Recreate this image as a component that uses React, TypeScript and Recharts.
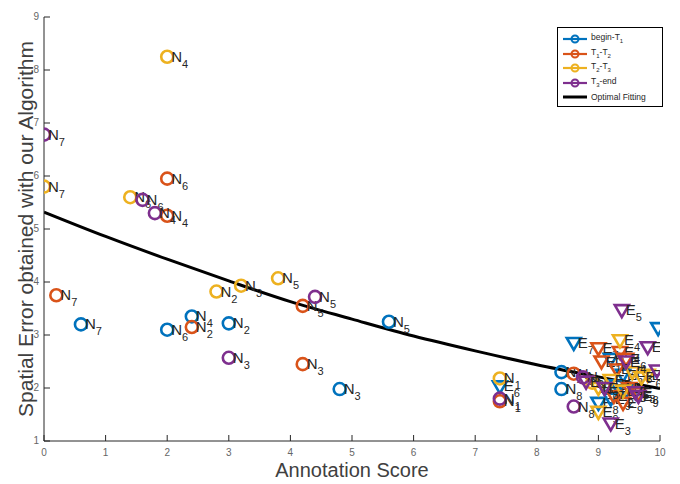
import React from 'react';
import { ComposedChart, Scatter, Line, XAxis, YAxis } from 'recharts';

const xTicks = [0, 1, 2, 3, 4, 5, 6, 7, 8, 9, 10];
const yTicks = [1, 2, 3, 4, 5, 6, 7, 8, 9];

// [label, x, y]  N = circle, E = down triangle
const beginT1: [string, number, number][] = [
  ['N7', 0.6, 3.2], ['N6', 2.0, 3.1], ['N4', 2.4, 3.35], ['N2', 3.0, 3.22], ['N3', 4.8, 1.98],
  ['N5', 5.6, 3.25], ['N1', 8.4, 2.3], ['N8', 8.4, 1.98],
  ['E6', 7.4, 2.03], ['E7', 8.6, 2.85], ['E4', 9.97, 3.13], ['E1', 9.2, 2.55], ['E8', 9.0, 1.72],
  ['E2', 9.4, 2.25], ['E3', 9.45, 1.95], ['E5', 9.3, 2.05], ['E9', 9.2, 1.8],
];
const t1T2: [string, number, number][] = [
  ['N7', 0.2, 3.75], ['N6', 2.0, 5.95], ['N4', 2.0, 5.25], ['N2', 2.4, 3.15], ['N5', 4.2, 3.55],
  ['N3', 4.2, 2.45], ['N1', 7.4, 1.75], ['N8', 8.6, 2.27],
  ['E7', 9.0, 2.75], ['E1', 9.05, 2.5], ['E4', 9.35, 2.68], ['E6', 9.45, 2.55], ['E3', 9.3, 2.35],
  ['E5', 9.5, 2.0], ['E2', 9.25, 1.85], ['E9', 9.4, 1.72], ['E8', 9.65, 1.9],
];
const t2T3: [string, number, number][] = [
  ['N7', 0.0, 5.8], ['N6', 1.4, 5.6], ['N4', 2.0, 8.25], ['N2', 2.8, 3.82], ['N3', 3.2, 3.93],
  ['N5', 3.8, 4.07], ['N1', 7.4, 2.18], ['N8', 8.9, 2.1],
  ['E4', 9.35, 2.9], ['E5', 9.8, 2.25], ['E1', 9.2, 2.15], ['E8', 9.0, 2.0], ['E9', 9.0, 1.55],
  ['E3', 9.55, 2.3], ['E6', 9.7, 2.2], ['E2', 9.4, 1.95],
];
const t3End: [string, number, number][] = [
  ['N7', 0.0, 6.78], ['N6', 1.6, 5.55], ['N4', 1.8, 5.3], ['N3', 3.0, 2.57], ['N5', 4.4, 3.72],
  ['N1', 7.4, 1.8], ['N8', 8.6, 1.65], ['N2', 8.75, 2.2],
  ['E5', 9.38, 3.47], ['E6', 9.8, 2.77], ['E2', 9.95, 2.33], ['E3', 9.2, 1.33], ['E1', 8.8, 2.12],
  ['E8', 9.6, 1.92], ['E4', 9.45, 2.5], ['E7', 9.1, 2.0], ['E9', 9.65, 1.85],
];

const fitX = [0, 1, 2, 3, 4, 5, 6, 7, 8, 9, 10];
const fitY = [5.32, 4.86, 4.43, 4.02, 3.63, 3.3, 2.98, 2.7, 2.44, 2.21, 1.99];

const seriesNames = ['begin-T1', 'T1-T2', 'T2-T3', 'T3-end'];
const colors = ['#0072BD', '#D95319', '#EDB120', '#7E2F8E'];

const toPts = (arr: [string, number, number][]) => arr.map(([l, x, y]) => ({ l, x, y }));
const fitData = fitX.map((x, i) => ({ x, y: fitY[i] }));

const FONT = '"Liberation Sans", Arial, sans-serif';

const makeShape = (color: string) => (props: any) => {
  const { cx, cy, payload } = props;
  const lab: string = payload.l;
  const letter = lab[0];
  const sub = lab.slice(1);
  const marker = letter === 'N'
    ? <circle cx={cx} cy={cy} r={6} fill="none" stroke={color} strokeWidth={2.6} />
    : <polygon points={`${cx - 7},${cy - 5} ${cx + 7},${cy - 5} ${cx},${cy + 7}`} fill="none" stroke={color} strokeWidth={2.6} strokeLinejoin="miter" />;
  return (
    <g>
      {marker}
      <text x={cx + 4} y={cy + 5} fontFamily={FONT} fontSize={15} fill="#262626">
        {letter}
        <tspan fontSize={11} dy={6}>{sub}</tspan>
      </text>
    </g>
  );
};

const XTick = (props: any) => {
  const { x, y, payload } = props;
  return (
    <g>
      <line x1={x} y1={y} x2={x} y2={y - 6} stroke="#262626" strokeWidth={1} />
      <text x={x} y={y + 15} textAnchor="middle" fontFamily={FONT} fontSize={10} fill="#666">{payload.value}</text>
    </g>
  );
};
const YTick = (props: any) => {
  const { x, y, payload } = props;
  return (
    <g>
      <line x1={x} y1={y} x2={x + 6} y2={y} stroke="#262626" strokeWidth={1} />
      <text x={x - 5} y={y + 3} textAnchor="end" fontFamily={FONT} fontSize={10} fill="#666">{payload.value}</text>
    </g>
  );
};
const XTopTick = (props: any) => {
  const { x, y } = props;
  return <line x1={x} y1={y} x2={x} y2={y + 6} stroke="#262626" strokeWidth={1} />;
};
const YRightTick = (props: any) => {
  const { x, y } = props;
  return <line x1={x} y1={y} x2={x - 6} y2={y} stroke="#262626" strokeWidth={1} />;
};

const LegendBox = () => {
  const sub = (t: string) => <sub style={{ fontSize: 6 }}>{t}</sub>;
  const items = [
    { c: colors[0], node: <>begin-T{sub('1')}</> },
    { c: colors[1], node: <>T{sub('1')}-T{sub('2')}</> },
    { c: colors[2], node: <>T{sub('2')}-T{sub('3')}</> },
    { c: colors[3], node: <>T{sub('3')}-end</> },
  ];
  return (
    <div style={{ position: 'absolute', left: 557, top: 27, width: 106, height: 80, border: '1px solid #000', background: '#fff', fontFamily: FONT, fontSize: 8.5, color: '#262626', boxSizing: 'border-box', padding: '4px 0 0 4px' }}>
      {items.map((it, i) => (
        <div key={i} style={{ display: 'flex', alignItems: 'center', height: 14.5 }}>
          <svg width={26} height={10} style={{ marginRight: 3 }}>
            <line x1={1} y1={5} x2={25} y2={5} stroke={it.c} strokeWidth={2.2} />
            <circle cx={13} cy={5} r={3.5} fill="none" stroke={it.c} strokeWidth={2} />
          </svg>
          <span style={{ lineHeight: '10px' }}>{it.node}</span>
        </div>
      ))}
      <div style={{ display: 'flex', alignItems: 'center', height: 14.5 }}>
        <svg width={26} height={10} style={{ marginRight: 3 }}>
          <line x1={1} y1={5} x2={25} y2={5} stroke="#000" strokeWidth={3} />
        </svg>
        <span>Optimal Fitting</span>
      </div>
    </div>
  );
};

export default function App() {
  const all = [beginT1, t1T2, t2T3, t3End];
  return (
    <div style={{ position: 'absolute', left: 0, top: 0, width: 680, height: 484, background: '#fff' }}>
      <ComposedChart width={680} height={484} margin={{ top: 17, right: 20, bottom: 0, left: 14 }}>
        <XAxis xAxisId="b" type="number" dataKey="x" domain={[0, 10]} ticks={xTicks} allowDataOverflow
          tick={<XTick />} tickLine={false} tickSize={0} tickMargin={0} height={43}
          axisLine={{ stroke: '#262626' }}
          label={{ value: 'Annotation Score', position: 'insideBottom', offset: 7, style: { fontFamily: FONT, fontSize: 20, fill: '#404040' } }} />
        <XAxis xAxisId="t" orientation="top" type="number" dataKey="x" domain={[0, 10]} ticks={xTicks}
          tick={<XTopTick />} tickLine={false} tickSize={0} tickMargin={0} height={0} axisLine={{ stroke: '#262626' }} />
        <YAxis yAxisId="l" type="number" dataKey="y" domain={[1, 9]} ticks={yTicks} allowDataOverflow
          tick={<YTick />} tickLine={false} tickSize={0} tickMargin={0} width={30}
          axisLine={{ stroke: '#262626' }}
          label={{ value: 'Spatial Error obtained with our Algorithm', angle: -90, position: 'insideLeft', offset: 12, style: { textAnchor: 'middle', fontFamily: FONT, fontSize: 21, fill: '#404040' } }} />
        <YAxis yAxisId="r" orientation="right" type="number" dataKey="y" domain={[1, 9]} ticks={yTicks}
          tick={<YRightTick />} tickLine={false} tickSize={0} tickMargin={0} width={0} axisLine={{ stroke: '#262626' }} />
        {all.map((s, i) => (
          <Scatter key={i} name={seriesNames[i]} data={toPts(s)} xAxisId="b" yAxisId="l"
            fill={colors[i]} shape={makeShape(colors[i])} isAnimationActive={false} />
        ))}
        <Line data={fitData} dataKey="y" xAxisId="b" yAxisId="l" type="monotone" stroke="#000" strokeWidth={3} dot={false} activeDot={false} isAnimationActive={false} />
      </ComposedChart>
      <LegendBox />
    </div>
  );
}
